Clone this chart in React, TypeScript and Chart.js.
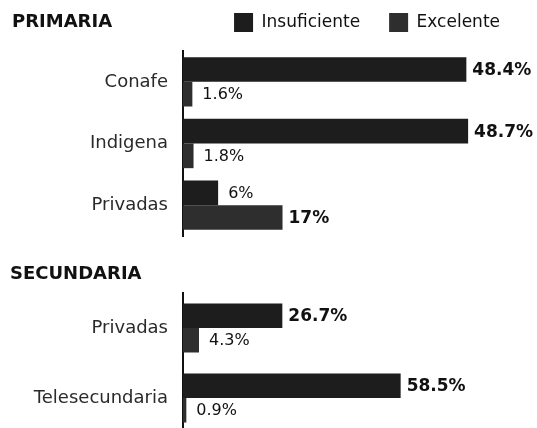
import React, { useEffect, useRef } from "react";
import { Chart, registerables } from "chart.js";

Chart.register(...registerables);

// ---- data ----
const seriesLabels = ["Insuficiente", "Excelente"];
const sectionTitles = ["PRIMARIA", "SECUNDARIA"];

const primariaCategories = ["Conafe", "Indigena", "Privadas"];
const primariaInsuficiente = [48.4, 48.7, 6];
const primariaExcelente = [1.6, 1.8, 17];

const secundariaCategories = ["Privadas", "Telesecundaria"];
const secundariaInsuficiente = [26.7, 58.5];
const secundariaExcelente = [4.3, 0.9];

const seriesColors = ["#1d1d1d", "#2e2e2e"];
const FONT = "'DejaVu Sans', sans-serif";

const valueLabels = {
  id: "valueLabels",
  afterDatasetsDraw(chart: any) {
    const ctx = chart.ctx;
    ctx.save();
    chart.data.datasets.forEach((ds: any, di: number) => {
      const meta = chart.getDatasetMeta(di);
      meta.data.forEach((bar: any, i: number) => {
        const v = ds.data[i];
        const group = chart.data.datasets.map((d: any) => d.data[i]);
        const bold = v === Math.max(...group);
        ctx.font = bold ? `bold 17px ${FONT}` : `16px ${FONT}`;
        ctx.fillStyle = "#111";
        ctx.textBaseline = "middle";
        ctx.textAlign = "left";
        ctx.fillText(`${v}%`, bar.x + (bold ? 6 : 10), bar.y + 1);
      });
    });
    ctx.restore();
  },
};

type SectionProps = {
  categories: string[];
  insuf: number[];
  excel: number[];
  max: number;
  width: number;
  height: number;
  legend: boolean;
  padding: { top: number; right: number; bottom: number; left: number };
  topGap: number;
  catPct: number;
};

function Section(p: SectionProps) {
  const ref = useRef<HTMLCanvasElement | null>(null);
  useEffect(() => {
    if (!ref.current) return;
    const chart = new Chart(ref.current, {
      type: "bar",
      data: {
        labels: p.categories,
        datasets: [
          {
            label: seriesLabels[0],
            data: p.insuf,
            backgroundColor: seriesColors[0],
            borderWidth: 0,
            categoryPercentage: p.catPct,
            barPercentage: 1,
          },
          {
            label: seriesLabels[1],
            data: p.excel,
            backgroundColor: seriesColors[1],
            borderWidth: 0,
            categoryPercentage: p.catPct,
            barPercentage: 1,
          },
        ],
      },
      options: {
        indexAxis: "y",
        animation: false,
        responsive: false,
        maintainAspectRatio: false,
        layout: { padding: p.padding },
        plugins: {
          legend: {
            display: p.legend,
            position: "top",
            align: "end",
            labels: {
              boxWidth: 19,
              boxHeight: 19,
              padding: 29,
              color: "#111",
              font: { family: FONT, size: 17 },
            },
          },
          tooltip: { enabled: false },
          title: { display: false },
        },
        scales: {
          x: {
            position: "top",
            min: 0,
            max: p.max,
            ticks: { display: false },
            grid: { display: false, drawTicks: false },
            border: { display: false },
            afterFit: (s: any) => {
              s.height = p.topGap;
              s.paddingLeft = 0;
              s.paddingRight = 0;
            },
          },
          y: {
            ticks: {
              padding: 15,
              color: "#2a2a2a",
              font: { family: FONT, size: 18 },
            },
            grid: { display: false, drawTicks: false },
            border: { display: true, color: "#111", width: 2 },
            afterFit: (s: any) => {
              s.width = 183;
              s.paddingTop = 0;
              s.paddingBottom = 0;
            },
          },
        },
      },
      plugins: [valueLabels],
    } as any);
    return () => chart.destroy();
  }, []);
  return (
    <canvas
      ref={ref}
      width={p.width}
      height={p.height}
      style={{ width: p.width, height: p.height, display: "block" }}
    />
  );
}

const titleStyle: React.CSSProperties = {
  position: "absolute",
  fontFamily: FONT,
  fontWeight: "bold",
  fontSize: 18,
  lineHeight: "18px",
  color: "#111",
  whiteSpace: "nowrap",
};

export default function App() {
  return (
    <div
      style={{
        position: "fixed",
        left: 0,
        top: 0,
        width: 537,
        height: 428,
        overflow: "hidden",
        background: "#fff",
      }}
    >
      <div style={{ position: "absolute", left: 0, top: 0 }}>
        <Section
          categories={primariaCategories}
          insuf={primariaInsuficiente}
          excel={primariaExcelente}
          max={59.1}
          width={537}
          height={250}
          legend={true}
          padding={{ top: -16, right: 8, bottom: 14, left: 0 }}
          topGap={9}
          catPct={0.8}
        />
      </div>
      <div style={{ position: "absolute", left: 0, top: 250 }}>
        <Section
          categories={secundariaCategories}
          insuf={secundariaInsuficiente}
          excel={secundariaExcelente}
          max={93}
          width={537}
          height={190}
          legend={false}
          padding={{ top: 43, right: 8, bottom: 7, left: 0 }}
          topGap={0}
          catPct={0.7}
        />
      </div>
      <div style={{ ...titleStyle, left: 12, top: 12 }}>{sectionTitles[0]}</div>
      <div style={{ ...titleStyle, left: 10, top: 264 }}>{sectionTitles[1]}</div>
    </div>
  );
}
